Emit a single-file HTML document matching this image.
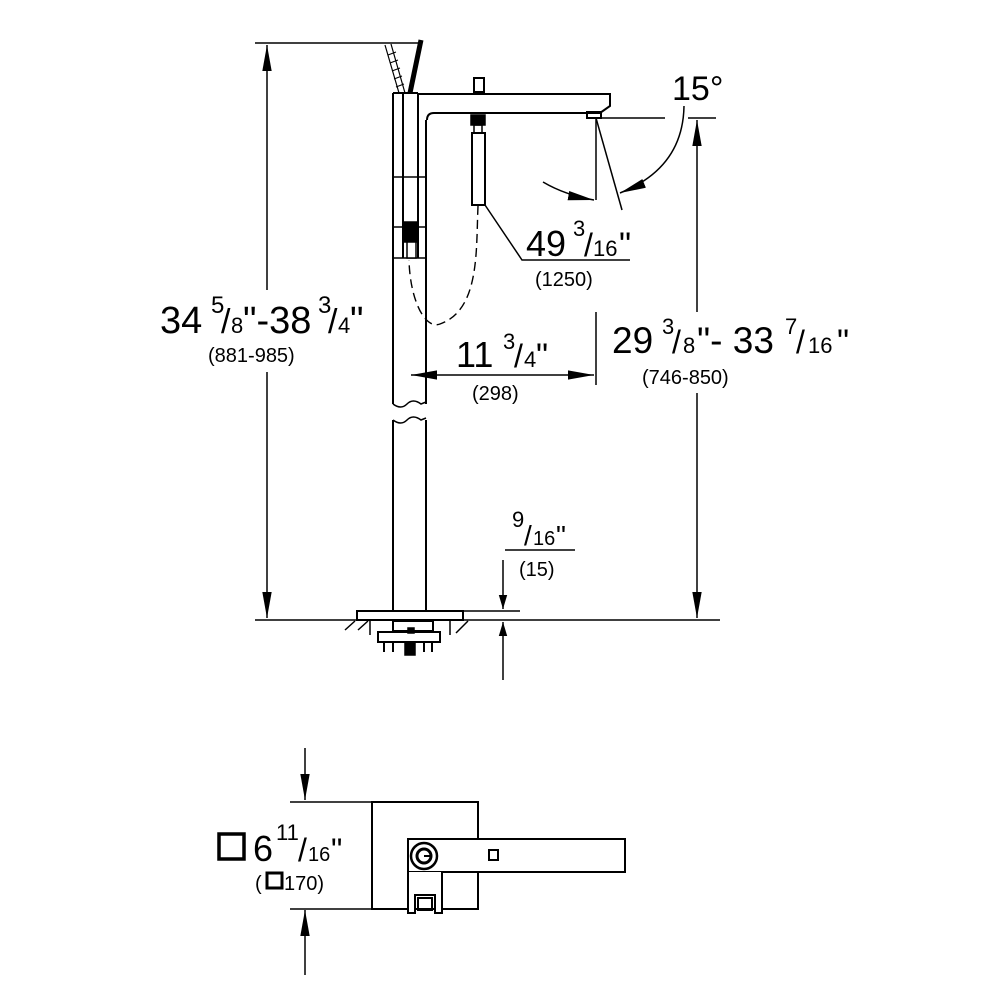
<!DOCTYPE html>
<html><head><meta charset="utf-8"><style>
html,body{margin:0;padding:0;background:#fff}
svg{display:block}
text{font-family:"Liberation Sans",sans-serif;fill:#000}
</style></head><body>
<svg width="1000" height="1000" viewBox="0 0 1000 1000" xmlns="http://www.w3.org/2000/svg">
<defs>
<marker id="a" viewBox="0 0 10 10" refX="10" refY="5" markerWidth="14" markerHeight="14" markerUnits="userSpaceOnUse" orient="auto-start-reverse"><path d="M0,2 L10,5 L0,8 z" fill="#000"/></marker>
<marker id="b" viewBox="0 0 10 10" refX="10" refY="5" markerWidth="26" markerHeight="26" markerUnits="userSpaceOnUse" orient="auto-start-reverse"><path d="M0,3.2 L10,5 L0,6.8 z" fill="#000"/></marker>
</defs>
<g stroke="#000" fill="none" stroke-width="1.5">
<line x1="255" y1="43" x2="420" y2="43"/>
<line x1="267" y1="45" x2="267" y2="290" marker-start="url(#b)"/>
<line x1="267" y1="372" x2="267" y2="618" marker-end="url(#b)"/>
<line x1="255" y1="620" x2="720" y2="620"/>
<path d="M385,45 L399,93 M391,44 L405,93" stroke-width="1.2"/>
<path d="M388,55 L396,52 M390,63 L398,60 M392,71 L400,68 M394,79 L402,76 M396,87 L404,84" stroke-width="1"/>
<path d="M421,40 L410,93" stroke-width="5"/>
<path d="M393,93 L393,404 M403,93 L403,258 M418,93 L418,258 M393,93 L418,93" stroke-width="2"/>
<path d="M426,120 L426,404" stroke-width="2"/>
<path d="M418,94 L610,94 L610,106 L600,113 L434,113 Q427,113 427,120" stroke-width="2"/>
<path d="M393,404 q8,6 14,0 t14,0 l5,-2" stroke-width="1.5"/>
<path d="M393,420 q8,6 14,0 t14,0 l5,-2" stroke-width="1.5"/>
<path d="M393,420 L393,610 M426,420 L426,610" stroke-width="2"/>
<path d="M393,177 L426,177 M393,227 L426,227 M393,258 L426,258" stroke-width="1.5"/>
<rect x="404" y="222" width="14" height="20" fill="#000"/>
<rect x="407" y="242" width="9" height="16" fill="#fff" stroke-width="1.5"/>
<rect x="474" y="78" width="10" height="14" stroke-width="2"/>
<rect x="587" y="112" width="14" height="6" stroke-width="2"/>
<rect x="471" y="115" width="14" height="10" fill="#000"/>
<rect x="474" y="125" width="8" height="8" stroke-width="1.5"/>
<rect x="472" y="133" width="13" height="72" stroke-width="2"/>
<path d="M478,206 C476,250 480,310 440,324 C425,330 410,300 409,260" stroke-dasharray="9,5" stroke-width="1.4"/>
<line x1="596" y1="118" x2="665" y2="118"/>
<line x1="596" y1="118" x2="596" y2="200"/>
<line x1="596" y1="118" x2="622" y2="210"/>
<path d="M543,182 Q565,195 594,200" marker-end="url(#b)"/>
<path d="M684,106 Q683,168 620,193" marker-end="url(#b)"/>
<path d="M485,205 L522,260 L630,260" stroke-width="1.5"/>
<line x1="596" y1="312" x2="596" y2="385"/>
<line x1="411" y1="375" x2="594" y2="375" marker-start="url(#b)" marker-end="url(#b)"/>
<line x1="688" y1="118" x2="716" y2="118"/>
<line x1="697" y1="120" x2="697" y2="312" marker-start="url(#b)"/>
<line x1="697" y1="393" x2="697" y2="618" marker-end="url(#b)"/>
<rect x="357" y="611" width="106" height="9" stroke-width="2"/>
<line x1="464" y1="611" x2="520" y2="611"/>
<path d="M345,630 L355,621 M358,630 L368,621 M370,621 L370,635 M450,621 L450,635 M456,633 L468,621" stroke-width="1.5"/>
<rect x="393" y="621" width="40" height="10" stroke-width="2"/>
<rect x="378" y="632" width="62" height="10" stroke-width="2"/>
<path d="M384,642 v10 M393,642 v10 M432,642 v10 M424,642 v10" stroke-width="2"/>
<rect x="405" y="642" width="10" height="13" fill="#000"/>
<rect x="408" y="628" width="6" height="5" fill="#000"/>
<line x1="503" y1="560" x2="503" y2="609" marker-end="url(#a)"/>
<line x1="503" y1="680" x2="503" y2="622" marker-end="url(#a)"/>
<line x1="505" y1="550" x2="575" y2="550"/>
<line x1="305" y1="748" x2="305" y2="800" marker-end="url(#b)"/>
<line x1="305" y1="975" x2="305" y2="910" marker-end="url(#b)"/>
<line x1="290" y1="802" x2="372" y2="802"/>
<line x1="290" y1="909" x2="372" y2="909"/>
<rect x="372" y="802" width="106" height="107" stroke-width="2"/>
<rect x="408" y="839" width="217" height="33" fill="#fff" stroke-width="2"/>
<rect x="489" y="850" width="9" height="10" stroke-width="2"/>
<circle cx="424" cy="856" r="13" stroke-width="2.5"/>
<circle cx="424" cy="856" r="7" stroke-width="3"/>
<line x1="424" y1="856" x2="432" y2="856" stroke-width="2"/>
<path d="M408,872 L408,913 L415,913 L415,895 L435,895 L435,913 L442,913 L442,872" fill="#fff" stroke-width="2"/>
<rect x="418" y="898" width="14" height="12" stroke-width="2"/>
</g>
<text x="160" y="333" font-size="38">34</text>
<text x="211" y="313" font-size="24">5</text>
<text x="221" y="333" font-size="34">/</text>
<text x="231" y="333" font-size="22">8</text>
<text x="243" y="333" font-size="38">"-38</text>
<text x="318" y="313" font-size="24">3</text>
<text x="328" y="333" font-size="34">/</text>
<text x="338" y="333" font-size="22">4</text>
<text x="350" y="333" font-size="38">"</text>
<text x="208" y="362" font-size="20">(881-985)</text>

<text x="672" y="100" font-size="34">15°</text>

<text x="526" y="256" font-size="36">49</text>
<text x="573" y="236" font-size="22">3</text>
<text x="584" y="256" font-size="32">/</text>
<text x="593" y="256" font-size="22">16</text>
<text x="619" y="256" font-size="34">"</text>
<text x="535" y="286" font-size="20">(1250)</text>

<text x="456" y="367" font-size="36">11</text>
<text x="503" y="349" font-size="22">3</text>
<text x="514" y="367" font-size="32">/</text>
<text x="524" y="367" font-size="22">4</text>
<text x="536" y="367" font-size="34">"</text>
<text x="472" y="400" font-size="20">(298)</text>

<text x="612" y="353" font-size="37">29</text>
<text x="662" y="334" font-size="22">3</text>
<text x="672" y="353" font-size="32">/</text>
<text x="683" y="353" font-size="22">8</text>
<text x="697" y="353" font-size="37">"- 33</text>
<text x="785" y="334" font-size="22">7</text>
<text x="796" y="353" font-size="32">/</text>
<text x="808" y="353" font-size="22">16</text>
<text x="837" y="353" font-size="34">"</text>
<text x="642" y="384" font-size="20">(746-850)</text>

<text x="512" y="527" font-size="22">9</text>
<text x="524" y="545" font-size="28">/</text>
<text x="533" y="545" font-size="20">16</text>
<text x="556" y="545" font-size="28">"</text>
<text x="519" y="576" font-size="20">(15)</text>

<rect x="219" y="834" width="25" height="25" fill="none" stroke="#000" stroke-width="3.5"/>
<text x="253" y="861" font-size="36">6</text>
<text x="276" y="840" font-size="22">11</text>
<text x="298" y="861" font-size="32">/</text>
<text x="308" y="861" font-size="20">16</text>
<text x="331" y="861" font-size="32">"</text>
<text x="255" y="890" font-size="20">(</text>
<rect x="267" y="873" width="15" height="15" fill="none" stroke="#000" stroke-width="3"/>
<text x="284" y="890" font-size="20">170)</text>
</svg>
</body></html>
